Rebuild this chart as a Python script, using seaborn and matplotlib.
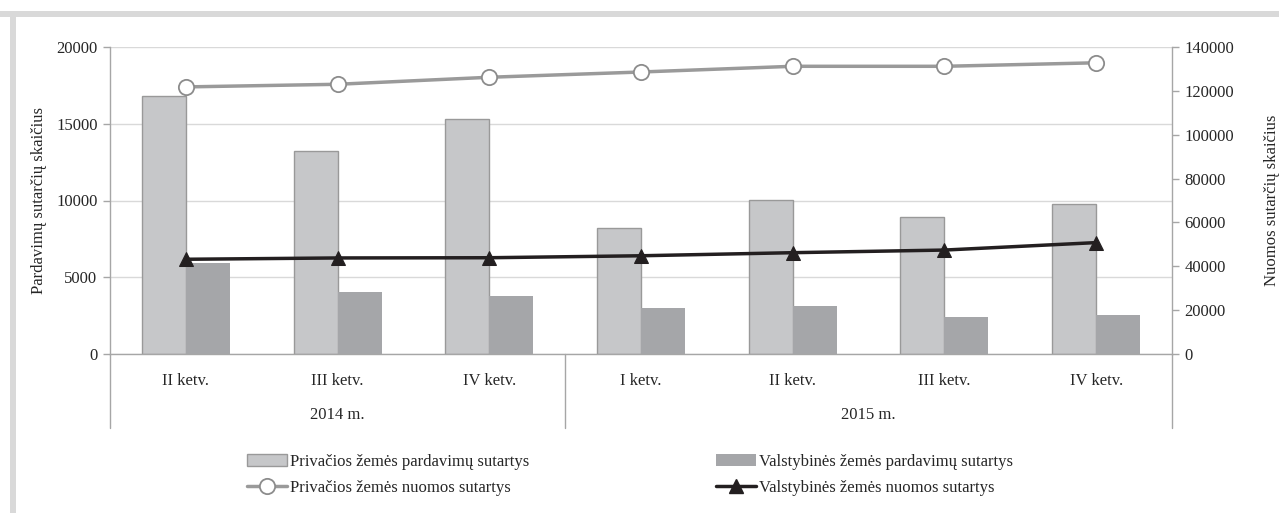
import numpy as np
import pandas as pd
import matplotlib
matplotlib.use("Agg")
import matplotlib.pyplot as plt
import seaborn as sns
from matplotlib.patches import Patch, Rectangle
from matplotlib.lines import Line2D

# Duomenys
ketvirciai = ["II ketv.", "III ketv.", "IV ketv.", "I ketv.", "II ketv.", "III ketv.", "IV ketv."]
metai = ["2014 m.", "2015 m."]
metu_ketv_sk = [3, 4]

priv_pardavimai = [16800, 13250, 15330, 8200, 10030, 8920, 9750]
valst_pardavimai = [5930, 4040, 3780, 3000, 3130, 2410, 2540]
priv_nuoma = [121800, 123000, 126200, 128600, 131200, 131200, 132800]
valst_nuoma = [43200, 43800, 43900, 44800, 46200, 47400, 50800]

serijos = ["Privačios žemės pardavimų sutartys",
           "Valstybinės žemės pardavimų sutartys",
           "Privačios žemės nuomos sutartys",
           "Valstybinės žemės nuomos sutartys"]

# Spalvos
c_priv_bar = "#c6c7c9"
c_valst_bar = "#a5a6a9"
c_priv_line = "#9a9a9a"
c_valst_line = "#231f20"
c_axis = "#a6a6a6"
c_grid = "#d9d9d9"

FS = 12

sns.set_theme(style="white")
plt.rcParams["font.family"] = ["Liberation Serif", "DejaVu Serif"]
plt.rcParams["font.size"] = FS

# unikalūs raktai, nes ketvirčių pavadinimai kartojasi
raktai = []
i = 0
for m, n in zip(metai, metu_ketv_sk):
    for k in range(n):
        raktai.append(m + " " + ketvirciai[i])
        i += 1

df = pd.DataFrame({
    "laikotarpis": raktai * 2,
    "sutartys": priv_pardavimai + valst_pardavimai,
    "tipas": [serijos[0]] * len(raktai) + [serijos[1]] * len(raktai),
})

fig = plt.figure(figsize=(12.79, 5.13), dpi=100)
ax = fig.add_axes([110 / 1279, 1 - 354 / 513, (1172 - 110) / 1279, 307 / 513])

sns.barplot(data=df, x="laikotarpis", y="sutartys", hue="tipas",
            palette=[c_priv_bar, c_valst_bar], width=0.58, saturation=1,
            legend=False, ax=ax, zorder=2)
for bar in ax.containers[0]:
    bar.set_edgecolor("#999999")
    bar.set_linewidth(1.0)
for bar in ax.containers[1]:
    bar.set_linewidth(0)

ax.set_ylim(0, 20000)
ax.set_yticks([0, 5000, 10000, 15000, 20000])
ax.set_xlim(-0.5, len(raktai) - 0.5)
ax.yaxis.grid(True, color=c_grid, lw=1, zorder=0)
ax.set_axisbelow(True)
ax.set_xticks(range(len(raktai)))
ax.set_xticklabels(ketvirciai)
ax.set_xlabel("")
ax.set_ylabel("Pardavimų sutarčių skaičius", fontsize=FS)
ax.yaxis.set_label_coords(-0.059, 0.5)
ax.tick_params(axis="x", length=0, pad=14, labelsize=FS)
ax.tick_params(axis="y", length=5, color=c_axis, width=1, labelsize=FS, pad=4, left=True)
for s in ["top", "right"]:
    ax.spines[s].set_visible(False)
for s in ["left", "bottom"]:
    ax.spines[s].set_color(c_axis)
    ax.spines[s].set_linewidth(1)

# antroji ašis – nuoma
ax2 = ax.twinx()
x = np.arange(len(raktai))
sns.lineplot(x=x, y=priv_nuoma, ax=ax2, color=c_priv_line, lw=2.5,
             marker="o", markersize=11, markerfacecolor="white",
             markeredgecolor="#8c8c8c", markeredgewidth=1.3, zorder=5)
sns.lineplot(x=x, y=valst_nuoma, ax=ax2, color=c_valst_line, lw=2.5,
             marker="^", markersize=10, markerfacecolor=c_valst_line,
             markeredgecolor=c_valst_line, zorder=6)
ax2.set_ylim(0, 140000)
ax2.set_yticks(np.arange(0, 140001, 20000))
ax2.set_ylabel("Nuomos sutarčių skaičius", fontsize=FS)
ax2.yaxis.set_label_coords(1.087, 0.5)
ax2.tick_params(axis="y", length=5, color=c_axis, width=1, labelsize=FS, pad=4, right=True)
for s in ["top", "left", "bottom"]:
    ax2.spines[s].set_visible(False)
ax2.spines["right"].set_color(c_axis)
ax2.spines["right"].set_linewidth(1)
ax2.set_xlim(-0.5, len(raktai) - 0.5)

# metų skirtukai ir pavadinimai
trans = ax.get_xaxis_transform()
riba = -0.5
ax.plot([riba, riba], [0, -0.242], transform=trans, color=c_axis, lw=1, clip_on=False)
for m, n in zip(metai, metu_ketv_sk):
    ax.text(riba + n / 2, -0.199, m, transform=trans, ha="center", va="center", fontsize=FS)
    riba += n
    ax.plot([riba, riba], [0, -0.242], transform=trans, color=c_axis, lw=1, clip_on=False)

# legenda
handles = [
    Patch(facecolor=c_priv_bar, edgecolor="#999999", lw=1),
    Line2D([], [], color=c_priv_line, lw=2.5, marker="o", markersize=11,
           markerfacecolor="white", markeredgecolor="#8c8c8c", markeredgewidth=1.3),
    Patch(facecolor=c_valst_bar, edgecolor=c_valst_bar, lw=0),
    Line2D([], [], color=c_valst_line, lw=2.5, marker="^", markersize=10,
           markerfacecolor=c_valst_line, markeredgecolor=c_valst_line),
]
labels = [serijos[0], serijos[2], serijos[1], serijos[3]]
fig.legend(handles, labels, ncol=2, loc="center", bbox_to_anchor=(0.4925, 0.074),
           frameon=False, fontsize=FS, handlelength=2.4, handletextpad=0.2,
           columnspacing=11.2, labelspacing=0.6)

# pilkas rėmelis
fig.patches.append(Rectangle((0, 1 - 17 / 513), 1, 6 / 513, transform=fig.transFigure,
                             facecolor="#d9d9d9", edgecolor="none", zorder=0))
fig.patches.append(Rectangle((10 / 1279, 0), 6 / 1279, 1 - 11 / 513, transform=fig.transFigure,
                             facecolor="#d9d9d9", edgecolor="none", zorder=0))

fig.savefig("out.png", dpi=100)
